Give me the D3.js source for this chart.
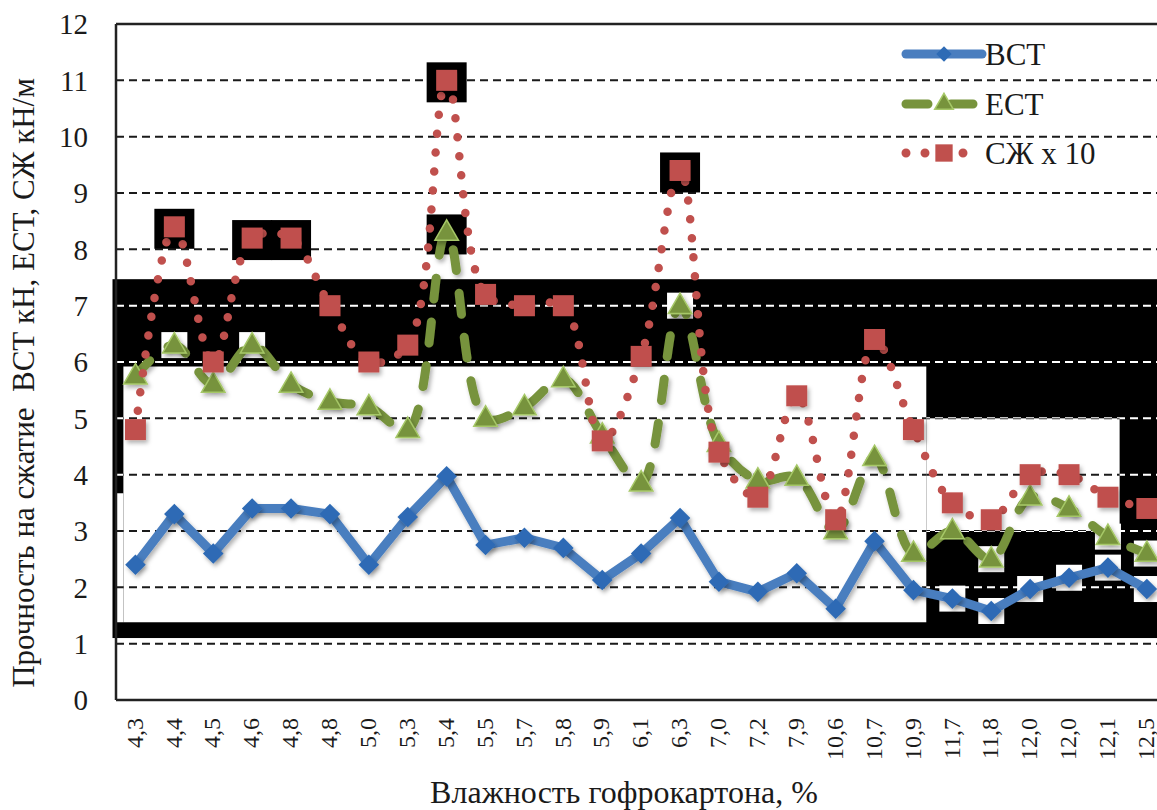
<!DOCTYPE html>
<html><head><meta charset="utf-8">
<script src="https://cdn.jsdelivr.net/npm/d3@7"></script>
<style>
body{margin:0;background:#fff}
svg{display:block}
</style>
</head><body>
<svg id="chart" width="1157" height="810"></svg>
<script>
// ---------- data ----------
const categories = ["4,3","4,4","4,5","4,6","4,8","4,8","5,0","5,3","5,4","5,5","5,7","5,8","5,9","6,1","6,3","7,0","7,2","7,9","10,6","10,7","10,9","11,7","11,8","12,0","12,0","12,1","12,5"];
const bctValues = [2.4,3.3,2.6,3.4,3.4,3.3,2.4,3.25,3.97,2.75,2.88,2.7,2.13,2.6,3.23,2.1,1.92,2.25,1.62,2.82,1.95,1.8,1.58,1.97,2.17,2.35,1.97];
const ectValues = [5.75,6.3,5.6,6.3,5.6,5.3,5.2,4.8,8.3,5.0,5.2,5.7,4.7,3.85,7.0,4.55,3.9,3.95,3.0,4.3,2.6,3.0,2.5,3.6,3.4,2.9,2.6];
const szhValues = [4.8,8.4,6.0,8.2,8.2,7.0,6.0,6.3,11.0,7.2,7.0,7.0,4.6,6.1,9.4,4.4,3.6,5.4,3.2,6.4,4.8,3.5,3.2,4.0,4.0,3.6,3.4];
const seriesNames = ["ВСТ","ЕСТ","СЖ x 10"];
const yTicks = [0,1,2,3,4,5,6,7,8,9,10,11,12];
const xTitle = "Влажность гофрокартона, %";
const yTitle = "Прочность на сжатие  ВСТ кН, ЕСТ, СЖ кН/м";
// scan artefacts of the source picture, in data units (category index, value)
const scanBlack = [[-0.59, 26.6, 1.10, 7.47]];
const scanWhite = [[-0.31, 20.33, 1.38, 5.92], [-0.49, -0.31, 1.38, 3.67], [20.33, 25.3, 3.0, 5.0]];

// ---------- layout ----------
const svg = d3.select("#chart");
const plotLeft = 116, plotTop = 24, plotBottom = 700, bandW = 38.9;
const plotRight = plotLeft + bandW * categories.length;
const FONT = '"Liberation Serif", "Times New Roman", serif';
const INK = "#1a1a1a";

const x = d3.scaleBand().domain(d3.range(categories.length)).range([plotLeft, plotRight]).padding(0);
const xc = i => x(i) + x.bandwidth() / 2;
const xi = d3.scaleLinear().domain([0, 1]).range([xc(0), xc(1)]); // fractional index
const y = d3.scaleLinear().domain([0, 12]).range([plotBottom, plotTop]);

const defs = svg.append("defs");
const sh = defs.append("filter").attr("id", "shadow").attr("x", "-50%").attr("y", "-50%").attr("width", "200%").attr("height", "200%");
sh.append("feDropShadow").attr("dx", 2).attr("dy", 3).attr("stdDeviation", 2).attr("flood-color", "#000").attr("flood-opacity", 0.3);

const rectOf = r => ({ x: xi(r[0]), y: y(r[3]), w: xi(r[1]) - xi(r[0]), h: y(r[2]) - y(r[3]) });
const mask = defs.append("mask").attr("id", "blackArea").attr("maskUnits", "userSpaceOnUse")
  .attr("x", 0).attr("y", 0).attr("width", 1157).attr("height", 810);
scanBlack.forEach(r => { const q = rectOf(r); mask.append("rect").attr("x", q.x).attr("y", q.y).attr("width", q.w).attr("height", q.h).attr("fill", "#fff"); });
scanWhite.forEach(r => { const q = rectOf(r); mask.append("rect").attr("x", q.x).attr("y", q.y).attr("width", q.w).attr("height", q.h).attr("fill", "#000"); });

// artefact background
const art = svg.append("g");
scanBlack.forEach(r => { const q = rectOf(r); art.append("rect").attr("x", q.x).attr("y", q.y).attr("width", q.w).attr("height", q.h).attr("fill", "#000"); });
scanWhite.forEach(r => { const q = rectOf(r); art.append("rect").attr("x", q.x).attr("y", q.y).attr("width", q.w).attr("height", q.h).attr("fill", "#fff"); });

function inBlack(i, v) {
  const hit = (r) => i >= r[0] && i <= r[1] && v >= r[2] && v <= r[3];
  return scanBlack.some(hit) && !scanWhite.some(hit);
}

// gridlines
const grid = svg.append("g");
const gridVals = yTicks.filter(v => v > 0 && v < 12);
grid.selectAll("line.g").data(gridVals).join("line")
  .attr("x1", plotLeft).attr("x2", plotRight).attr("y1", d => y(d)).attr("y2", d => y(d))
  .attr("stroke", INK).attr("stroke-width", 2).attr("stroke-dasharray", "8,5");
grid.append("g").attr("mask", "url(#blackArea)").selectAll("line").data(gridVals).join("line")
  .attr("x1", plotLeft).attr("x2", plotRight).attr("y1", d => y(d)).attr("y2", d => y(d))
  .attr("stroke", "#fff").attr("stroke-width", 2).attr("stroke-dasharray", "8,5");

// axes frame
svg.append("line").attr("x1", plotLeft).attr("x2", plotRight).attr("y1", y(12)).attr("y2", y(12)).attr("stroke", "#222").attr("stroke-width", 2.5);
svg.append("line").attr("x1", plotLeft).attr("x2", plotLeft).attr("y1", y(12)).attr("y2", y(0)).attr("stroke", "#222").attr("stroke-width", 2.5);
svg.append("line").attr("x1", plotLeft).attr("x2", plotRight).attr("y1", y(0)).attr("y2", y(0)).attr("stroke", "#222").attr("stroke-width", 2.5);

// y tick labels
const yAxis = d3.axisLeft(y).tickValues(yTicks).tickSize(0).tickPadding(0).tickFormat(d3.format("d"));
const yg = svg.append("g").attr("transform", `translate(${plotLeft - 28},0)`).call(yAxis);
yg.select(".domain").remove();
yg.selectAll("text").style("font-family", FONT).style("font-size", "29px").style("fill", INK).attr("dy", "0.34em");

// x tick labels
const xAxis = d3.axisBottom(x).tickFormat(i => categories[i]).tickSize(0).tickPadding(0);
const xg = svg.append("g").attr("transform", `translate(0,${plotBottom + 18})`).call(xAxis);
xg.select(".domain").remove();
xg.selectAll("text").style("font-family", FONT).style("font-size", "24px").style("fill", INK)
  .attr("text-anchor", "end").attr("transform", "rotate(-90)").attr("x", 0).attr("y", 0).attr("dx", 0).attr("dy", "0.3em");

// titles
svg.append("text").attr("x", 624).attr("y", 803).attr("text-anchor", "middle")
  .style("font-family", FONT).style("font-size", "32px").style("fill", INK).text(xTitle);
svg.append("text").attr("transform", `translate(34,383) rotate(-90)`).attr("text-anchor", "middle")
  .style("font-family", FONT).style("font-size", "31px").style("fill", INK).style("white-space", "pre").text(yTitle);

// ---------- series ----------
const colors = { bct: "#4A7EBF", bctMark: "#2E6BB5", ect: "#77933C", ectMark: "#77933C", ectEdge: "#A6C868", szh: "#C0504D" };
const smooth = d3.line().x((d, i) => xc(i)).y(d => y(d)).curve(d3.curveCatmullRom.alpha(0.5));
const straight = d3.line().x((d, i) => xc(i)).y(d => y(d));

const diamond = d3.symbol().type(d3.symbolDiamond2).size(270);
const triangle = d3.symbol().type(d3.symbolTriangle).size(240);
const square = d3.symbol().type(d3.symbolSquare).size(440);

function halos(g, vals, skipWhite) {
  vals.forEach((v, i) => {
    if (v >= 8) {
      g.append("rect").attr("x", xc(i) - 20).attr("y", y(v) - 18).attr("width", 40).attr("height", 40).attr("fill", "#000");
    } else if (!skipWhite && inBlack(i, v)) {
      g.append("rect").attr("x", xc(i) - 13).attr("y", y(v) - 13).attr("width", 26).attr("height", 26).attr("fill", "#fff");
    }
  });
}

// BCT
const gB = svg.append("g");
halos(gB, bctValues, false);
gB.append("path").datum(bctValues).attr("d", straight).attr("fill", "none").attr("stroke", colors.bct)
  .attr("stroke-width", 9).attr("stroke-linejoin", "round").attr("stroke-linecap", "round").attr("filter", "url(#shadow)");
gB.selectAll("path.m").data(bctValues).join("path").attr("class", "m")
  .attr("transform", (d, i) => `translate(${xc(i)},${y(d)})`).attr("d", diamond).attr("fill", colors.bctMark).attr("filter", "url(#shadow)");

// ECT
const gE = svg.append("g");
halos(gE, ectValues, false);
gE.append("path").datum(ectValues).attr("d", smooth).attr("fill", "none").attr("stroke", colors.ect)
  .attr("stroke-width", 9).attr("stroke-linecap", "round").attr("stroke-dasharray", "21,23").attr("filter", "url(#shadow)");
gE.selectAll("path.m").data(ectValues).join("path").attr("class", "m")
  .attr("transform", (d, i) => `translate(${xc(i)},${y(d) + 1})`).attr("d", triangle).attr("fill", colors.ectMark)
  .attr("stroke", colors.ectEdge).attr("stroke-width", 1.5).attr("filter", "url(#shadow)");

// SZH x 10
const gS = svg.append("g");
halos(gS, szhValues, true);
gS.append("path").datum(szhValues).attr("d", smooth).attr("fill", "none").attr("stroke", colors.szh)
  .attr("stroke-width", 8.5).attr("stroke-linecap", "round").attr("stroke-dasharray", "0,19");
gS.selectAll("path.m").data(szhValues).join("path").attr("class", "m")
  .attr("transform", (d, i) => `translate(${xc(i)},${y(d)})`).attr("d", square).attr("fill", colors.szh).attr("filter", "url(#shadow)");

// ---------- legend ----------
const lg = svg.append("g").attr("transform", "translate(906,0)");
const rows = [54, 104, 153];
lg.append("line").attr("x1", 0).attr("x2", 76).attr("y1", rows[0]).attr("y2", rows[0]).attr("stroke", colors.bct).attr("stroke-width", 9).attr("stroke-linecap", "round");
lg.append("path").attr("transform", `translate(38,${rows[0]})`).attr("d", d3.symbol().type(d3.symbolDiamond2).size(150)).attr("fill", colors.bctMark);
lg.append("line").attr("x1", 0).attr("x2", 76).attr("y1", rows[1]).attr("y2", rows[1]).attr("stroke", colors.ect).attr("stroke-width", 9).attr("stroke-linecap", "round").attr("stroke-dasharray", "22,23");
lg.append("path").attr("transform", `translate(38,${rows[1]})`).attr("d", d3.symbol().type(d3.symbolTriangle).size(150)).attr("fill", colors.ectMark).attr("stroke", colors.ectEdge).attr("stroke-width", 1.5);
lg.append("line").attr("x1", 0).attr("x2", 76).attr("y1", rows[2]).attr("y2", rows[2]).attr("stroke", colors.szh).attr("stroke-width", 9).attr("stroke-linecap", "round").attr("stroke-dasharray", "0,19");
lg.append("path").attr("transform", `translate(38,${rows[2]})`).attr("d", d3.symbol().type(d3.symbolSquare).size(300)).attr("fill", colors.szh);
lg.selectAll("text").data(seriesNames).join("text").attr("x", 79).attr("y", (d, i) => rows[i]).attr("dy", "0.35em")
  .style("font-family", FONT).style("font-size", "31px").style("fill", INK).text(d => d);
</script>
</body></html>
